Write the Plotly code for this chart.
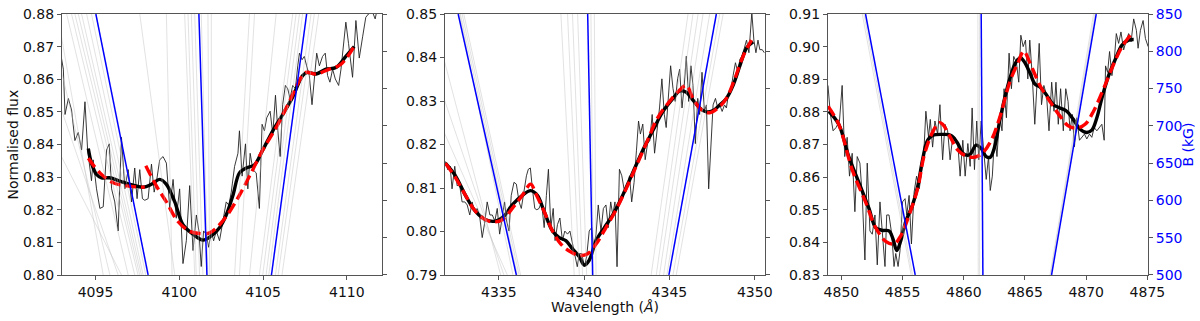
import plotly.graph_objects as go

# ---- panel 1 : H-delta ----
P1_SPEC_WL = [4092.95, 4093.08, 4093.18, 4093.38, 4093.57, 4093.77, 4093.97, 4094.17, 4094.37, 4094.53,
              4094.76, 4094.86, 4095.06, 4095.26, 4095.46, 4095.66, 4095.82, 4095.96, 4096.15, 4096.35,
              4096.55, 4096.75, 4096.95, 4097.15, 4097.34, 4097.48, 4097.64, 4097.80, 4097.94, 4098.14,
              4098.34, 4098.50, 4098.65, 4098.83, 4099.03, 4099.23, 4099.43, 4099.63, 4099.82, 4100.02,
              4100.22, 4100.42, 4100.62, 4100.82, 4101.02, 4101.17, 4101.31, 4101.45, 4101.61, 4101.75,
              4101.91, 4102.05, 4102.21, 4102.40, 4102.60, 4102.80, 4102.96, 4103.10, 4103.30, 4103.50,
              4103.59, 4103.75, 4103.95, 4104.09, 4104.23, 4104.39, 4104.59, 4104.78, 4104.94, 4105.08,
              4105.22, 4105.42, 4105.58, 4105.74, 4105.88, 4106.02, 4106.17, 4106.33, 4106.47, 4106.61,
              4106.77, 4106.93, 4107.07, 4107.17, 4107.33, 4107.46, 4107.60, 4107.76, 4107.92, 4108.06,
              4108.20, 4108.36, 4108.55, 4108.71, 4108.85, 4108.99, 4109.15, 4109.31, 4109.51, 4109.65,
              4109.78, 4109.94, 4110.10, 4110.34, 4110.54, 4110.74, 4110.94, 4111.13, 4111.29, 4111.50,
              4111.69, 4111.83, 4112.00, 4112.15]
P1_SPEC_FLUX = [0.8670, 0.8631, 0.8492, 0.8541, 0.8506, 0.8412, 0.8437, 0.8383, 0.8531, 0.8383,
                0.8289, 0.8353, 0.8264, 0.8204, 0.8209, 0.8383, 0.8402, 0.8264, 0.8224, 0.8135,
                0.8422, 0.8264, 0.8323, 0.8224, 0.8328, 0.8234, 0.8323, 0.8234, 0.8229, 0.8234,
                0.8340, 0.8254, 0.8290, 0.8353, 0.8363, 0.8343, 0.8204, 0.8293, 0.8174, 0.8264,
                0.8035, 0.8105, 0.8274, 0.8075, 0.8184, 0.8135, 0.8026, 0.8135, 0.8125, 0.8085,
                0.8135, 0.8105, 0.8135, 0.8105, 0.8164, 0.8224, 0.8214, 0.8254, 0.8333, 0.8373,
                0.8442, 0.8303, 0.8402, 0.8264, 0.8373, 0.8323, 0.8313, 0.8204, 0.8462, 0.8442,
                0.8482, 0.8502, 0.8432, 0.8551, 0.8442, 0.8363, 0.8522, 0.8581, 0.8571, 0.8541,
                0.8581, 0.8571, 0.8641, 0.8680, 0.8660, 0.8670, 0.8641, 0.8611, 0.8522, 0.8591,
                0.8680, 0.8641, 0.8670, 0.8680, 0.8611, 0.8591, 0.8631, 0.8601, 0.8581, 0.8631,
                0.8700, 0.8775, 0.8710, 0.8606, 0.8780, 0.8665, 0.8730, 0.8790, 0.8800, 0.8810,
                0.8785, 0.8820, 0.8800, 0.8810]

P1_SMOOTH_WL = [4094.57, 4094.76, 4095.06, 4095.36, 4095.86, 4096.45, 4097.05, 4097.84, 4098.34, 4098.83,
                4099.23, 4099.73, 4100.22, 4100.82, 4101.41, 4101.91, 4102.40, 4102.80, 4103.20, 4103.59,
                4103.99, 4104.49, 4104.98, 4105.58, 4106.17, 4106.77, 4107.36, 4107.66, 4108.16, 4108.75,
                4109.35, 4109.94, 4110.44]
P1_SMOOTH_FLUX = [0.8388, 0.8343, 0.8308, 0.8298, 0.8298, 0.8288, 0.8278, 0.8269, 0.8278, 0.8293,
                  0.8278, 0.8224, 0.8154, 0.8125, 0.8107, 0.8120, 0.8145, 0.8184, 0.8244, 0.8313,
                  0.8328, 0.8338, 0.8383, 0.8442, 0.8492, 0.8546, 0.8611, 0.8621, 0.8616, 0.8631,
                  0.8636, 0.8670, 0.8700]

P1_MODEL_WL = [4094.57, 4095.26, 4096.05, 4096.85, 4097.94, None,
               4098.00, 4098.63, 4099.23, 4099.92, 4100.62, 4101.21, 4101.81, 4102.40, 4103.00, 4103.69,
               4104.29, 4104.98, 4105.78, 4106.57, 4107.17, 4107.56, 4108.16, 4108.95, 4109.65, 4110.54]
P1_MODEL_FLUX = [0.8358, 0.8313, 0.8283, 0.8273, 0.8269, None,
                 0.8335, 0.8273, 0.8224, 0.8164, 0.8134, 0.8127, 0.8129, 0.8154, 0.8194, 0.8254,
                 0.8313, 0.8383, 0.8452, 0.8531, 0.8596, 0.8621, 0.8616, 0.8631, 0.8646, 0.8710]

# wavelength of each B(lambda) curve at B = 850 kG (top) and B = 500 kG (bottom)
P1_BLUE_TOP = [4095.02, 4101.17, 4107.60]
P1_BLUE_BOT = [4098.14, 4101.65, 4105.50]
P1_GREY_TOP = [4092.73, 4092.15, 4091.01, 4088.65, 4093.28, 4093.57, 4093.77, 4093.97, 4094.17, 4094.47,
               4094.76, 4097.64, 4099.23, 4100.32, 4100.52, 4100.72, 4100.92, 4101.31, 4101.71, 4101.91,
               4104.19, 4104.49, 4105.78, 4106.77, 4106.97, 4107.17, 4107.36, 4107.86, 4108.06, 4108.32]
P1_GREY_BOT = [4095.46, 4095.86, 4096.35, 4096.55, 4096.95, 4097.34, 4097.54, 4097.64, 4097.74, 4097.84,
               4098.00, 4099.73, 4099.57, 4100.92, 4101.01, 4101.21, 4101.41, 4101.71, 4101.81, 4101.91,
               4103.30, 4103.59, 4104.19, 4104.78, 4104.98, 4105.18, 4105.34, 4105.74, 4105.90, 4106.13]

# ---- panel 2 : H-gamma ----
P2_SPEC_WL = [4331.87, 4332.01, 4332.15, 4332.26, 4332.42, 4332.56, 4332.70, 4332.85, 4333.01, 4333.15,
              4333.30, 4333.44, 4333.58, 4333.73, 4333.87, 4334.03, 4334.19, 4334.32, 4334.48, 4334.62,
              4334.77, 4334.91, 4335.05, 4335.21, 4335.34, 4335.46, 4335.60, 4335.73, 4335.89, 4336.03,
              4336.19, 4336.32, 4336.48, 4336.62, 4336.73, 4336.85, 4336.97, 4337.11, 4337.23, 4337.36,
              4337.50, 4337.66, 4337.79, 4337.91, 4338.05, 4338.19, 4338.30, 4338.44, 4338.58, 4338.73,
              4338.87, 4339.03, 4339.17, 4339.32, 4339.46, 4339.60, 4339.72, 4339.87, 4340.01, 4340.15,
              4340.30, 4340.44, 4340.56, 4340.70, 4340.83, 4340.99, 4341.13, 4341.28, 4341.42, 4341.56,
              4341.68, 4341.81, 4341.93, 4342.07, 4342.21, 4342.34, 4342.50, 4342.66, 4342.79, 4342.93,
              4343.07, 4343.19, 4343.30, 4343.44, 4343.58, 4343.72, 4343.85, 4343.99, 4344.13, 4344.26,
              4344.42, 4344.56, 4344.70, 4344.81, 4344.95, 4345.07, 4345.21, 4345.34, 4345.48, 4345.60,
              4345.74, 4345.87, 4345.99, 4346.13, 4346.26, 4346.38, 4346.52, 4346.66, 4346.77, 4346.91,
              4347.05, 4347.17, 4347.30, 4347.42, 4347.56, 4347.70, 4347.83, 4347.95, 4348.09, 4348.23,
              4348.34, 4348.48, 4348.62, 4348.73, 4348.87, 4349.01, 4349.13, 4349.26, 4349.40, 4349.52,
              4349.66, 4349.76, 4349.83, 4349.95, 4350.07, 4350.19, 4350.30, 4350.44, 4350.56]
P2_SPEC_FLUX = [0.8161, 0.8142, 0.8150, 0.8098, 0.8150, 0.8105, 0.8109, 0.8068, 0.8068, 0.8061,
                0.8038, 0.8068, 0.8046, 0.8053, 0.8038, 0.7986, 0.8024, 0.8068, 0.8038, 0.8038,
                0.8024, 0.8053, 0.7994, 0.8038, 0.8068, 0.8024, 0.8001, 0.8083, 0.8113, 0.8109,
                0.8068, 0.8053, 0.8098, 0.8128, 0.8143, 0.8146, 0.8098, 0.8053, 0.8050, 0.8053,
                0.8068, 0.8009, 0.8083, 0.8143, 0.8009, 0.8053, 0.7979, 0.8016, 0.8031, 0.7979,
                0.8001, 0.7994, 0.8001, 0.7971, 0.7949, 0.7919, 0.7949, 0.7949, 0.7919, 0.7942,
                0.8001, 0.8009, 0.7964, 0.7994, 0.8061, 0.8001, 0.8053, 0.8061, 0.8009, 0.8068,
                0.8038, 0.8068, 0.7919, 0.8143, 0.8128, 0.8098, 0.8098, 0.8128, 0.8068, 0.8113,
                0.8187, 0.8254, 0.8224, 0.8247, 0.8165, 0.8202, 0.8209, 0.8269, 0.8180, 0.8224,
                0.8284, 0.8351, 0.8269, 0.8239, 0.8306, 0.8381, 0.8329, 0.8299, 0.8351, 0.8373,
                0.8284, 0.8336, 0.8403, 0.8299, 0.8381, 0.8336, 0.8202, 0.8306, 0.8269, 0.8366,
                0.8276, 0.8291, 0.8098, 0.8202, 0.8291, 0.8306, 0.8284, 0.8291, 0.8276, 0.8291,
                0.8284, 0.8321, 0.8329, 0.8358, 0.8388, 0.8366, 0.8396, 0.8403, 0.8426, 0.8440,
                0.8411, 0.8470, 0.8503, 0.8440, 0.8411, 0.8440, 0.8418, 0.8418, 0.8411]

P2_SMOOTH_WL = [4331.87, 4332.46, 4333.05, 4333.64, 4334.23, 4334.81, 4335.30, 4335.79, 4336.38, 4336.87,
                4337.26, 4337.66, 4338.15, 4338.54, 4338.93, 4339.32, 4339.72, 4340.01, 4340.30, 4340.70,
                4341.19, 4341.68, 4342.26, 4342.85, 4343.44, 4344.03, 4344.62, 4345.21, 4345.60, 4345.99,
                4346.38, 4346.78, 4347.17, 4347.56, 4347.95, 4348.34, 4348.73, 4349.13, 4349.52, 4349.91]
P2_SMOOTH_FLUX = [0.8157, 0.8128, 0.8083, 0.8046, 0.8027, 0.8024, 0.8035, 0.8061, 0.8083, 0.8094,
                  0.8083, 0.8046, 0.8001, 0.7986, 0.7979, 0.7960, 0.7942, 0.7923, 0.7934, 0.7979,
                  0.8009, 0.8038, 0.8083, 0.8135, 0.8187, 0.8232, 0.8276, 0.8306, 0.8323, 0.8320,
                  0.8302, 0.8284, 0.8275, 0.8278, 0.8291, 0.8306, 0.8336, 0.8381, 0.8422, 0.8436]

P2_MODEL_WL = [4331.87, 4332.46, 4333.05, 4333.64, 4334.23, 4334.72, 4335.21, 4335.79, 4336.38, 4336.87,
               4337.17, 4337.66, 4338.15, 4338.64, 4339.13, 4339.72, 4340.21, 4340.70, 4341.28, 4341.87,
               4342.46, 4343.05, 4343.64, 4344.32, 4345.01, 4345.60, 4345.99, 4346.38, 4346.87, 4347.36,
               4347.85, 4348.34, 4348.83, 4349.32, 4349.81]
P2_MODEL_FLUX = [0.8157, 0.8124, 0.8083, 0.8046, 0.8027, 0.8022, 0.8027, 0.8053, 0.8083, 0.8109,
                 0.8087, 0.8046, 0.8001, 0.7971, 0.7955, 0.7945, 0.7949, 0.7971, 0.8009, 0.8050,
                 0.8098, 0.8150, 0.8202, 0.8262, 0.8299, 0.8325, 0.8336, 0.8306, 0.8280, 0.8273,
                 0.8284, 0.8306, 0.8351, 0.8403, 0.8440]

P2_BLUE_TOP = [4332.62, 4340.21, 4347.75]
P2_BLUE_BOT = [4336.03, 4340.50, 4344.97]
P2_GREY_TOP = [4332.70, 4332.75, 4332.85, 4332.95, 4331.09, 4330.11, 4328.73,
               4338.64, 4339.03, 4339.32, 4339.62, 4340.40, 4340.60,
               4346.09, 4346.38, 4346.68, 4346.97, 4347.36, 4347.95, 4348.15]
P2_GREY_BOT = [4335.83, 4336.09, 4336.19, 4336.28, 4335.11, 4335.30, 4335.50,
               4339.42, 4339.72, 4339.91, 4340.15, 4340.54, 4340.70,
               4343.93, 4344.23, 4344.42, 4344.66, 4344.85, 4345.21, 4345.40]

# ---- panel 3 : H-beta ----
P3_SPEC_WL = [4848.90, 4849.10, 4849.32, 4849.56, 4849.84, 4850.06, 4850.27, 4850.47, 4850.66, 4850.88,
              4851.10, 4851.29, 4851.51, 4851.70, 4851.92, 4852.11, 4852.33, 4852.52, 4852.74, 4852.93,
              4853.15, 4853.34, 4853.56, 4853.70, 4853.89, 4854.11, 4854.30, 4854.44, 4854.63, 4854.79,
              4854.99, 4855.20, 4855.34, 4855.53, 4855.72, 4855.94, 4856.14, 4856.36, 4856.57, 4856.77,
              4856.90, 4857.12, 4857.26, 4857.45, 4857.64, 4857.86, 4858.05, 4858.27, 4858.46, 4858.68,
              4858.88, 4859.09, 4859.29, 4859.51, 4859.70, 4859.92, 4860.11, 4860.33, 4860.52, 4860.68,
              4860.87, 4861.06, 4861.23, 4861.42, 4861.61, 4861.83, 4862.02, 4862.16, 4862.33, 4862.52,
              4862.71, 4862.93, 4863.12, 4863.29, 4863.48, 4863.70, 4863.89, 4864.08, 4864.30, 4864.49,
              4864.66, 4864.85, 4865.04, 4865.23, 4865.39, 4865.59, 4865.80, 4866.00, 4866.16, 4866.35,
              4866.54, 4866.76, 4866.96, 4867.18, 4867.37, 4867.53, 4867.72, 4867.91, 4868.13, 4868.33,
              4868.52, 4868.68, 4868.87, 4869.04, 4869.23, 4869.45, 4869.64, 4869.86, 4870.05, 4870.27,
              4870.46, 4870.65, 4870.87, 4871.09, 4871.28, 4871.47, 4871.58, 4871.75, 4871.91, 4872.10,
              4872.30, 4872.46, 4872.65, 4872.84, 4873.06, 4873.28, 4873.47, 4873.67, 4873.88, 4874.10,
              4874.24, 4874.43, 4874.65, 4874.84, 4875.06]
P3_SPEC_FLUX = [0.8881, 0.8792, 0.8742, 0.8752, 0.8772, 0.8881, 0.8663, 0.8722, 0.8603, 0.8673,
                0.8494, 0.8663, 0.8643, 0.8544, 0.8346, 0.8643, 0.8435, 0.8425, 0.8484, 0.8331,
                0.8524, 0.8435, 0.8326, 0.8484, 0.8484, 0.8425, 0.8326, 0.8366, 0.8326, 0.8375,
                0.8524, 0.8534, 0.8484, 0.8544, 0.8395, 0.8554, 0.8603, 0.8564, 0.8623, 0.8703,
                0.8802, 0.8722, 0.8777, 0.8692, 0.8772, 0.8732, 0.8822, 0.8653, 0.8762, 0.8742,
                0.8653, 0.8722, 0.8722, 0.8703, 0.8603, 0.8713, 0.8603, 0.8703, 0.8633, 0.8812,
                0.8623, 0.8772, 0.8653, 0.8772, 0.8683, 0.8593, 0.8663, 0.8559, 0.8603, 0.8732,
                0.8663, 0.8792, 0.8742, 0.8871, 0.8782, 0.8980, 0.8871, 0.8970, 0.8951, 0.8891,
                0.9035, 0.9000, 0.9020, 0.8901, 0.9020, 0.8911, 0.8762, 0.8891, 0.9010, 0.8822,
                0.8881, 0.8851, 0.8742, 0.8891, 0.8802, 0.8891, 0.8762, 0.8871, 0.8742, 0.8871,
                0.8832, 0.8742, 0.8792, 0.8693, 0.8782, 0.8713, 0.8722, 0.8732, 0.8717, 0.8732,
                0.8722, 0.8752, 0.8742, 0.8752, 0.8762, 0.8713, 0.8941, 0.8921, 0.8985, 0.8911,
                0.8961, 0.9040, 0.9010, 0.9045, 0.8990, 0.9020, 0.9040, 0.9015, 0.9085, 0.9050,
                0.8995, 0.9050, 0.9080, 0.9025, 0.9000]

P3_SMOOTH_WL = [4848.96, 4849.78, 4850.60, 4851.42, 4852.25, 4852.80, 4853.34, 4853.89, 4854.22, 4854.52,
                4854.85, 4855.26, 4855.81, 4856.22, 4856.63, 4857.04, 4857.45, 4858.27, 4858.96, 4859.51,
                4859.92, 4860.46, 4861.01, 4861.42, 4861.83, 4862.16, 4862.52, 4862.93, 4863.34, 4863.75,
                4864.24, 4864.63, 4864.90, 4865.39, 4865.80, 4866.22, 4866.76, 4867.31, 4867.86, 4868.41,
                4868.95, 4869.50, 4870.05, 4870.46, 4870.87, 4871.28, 4871.83, 4872.38, 4872.93, 4873.47,
                4873.88]
P3_SMOOTH_FLUX = [0.8802, 0.8762, 0.8663, 0.8584, 0.8504, 0.8445, 0.8437, 0.8435, 0.8410, 0.8375,
                  0.8405, 0.8465, 0.8514, 0.8569, 0.8653, 0.8713, 0.8728, 0.8731, 0.8728, 0.8703,
                  0.8673, 0.8668, 0.8698, 0.8688, 0.8663, 0.8661, 0.8693, 0.8772, 0.8842, 0.8901,
                  0.8951, 0.8966, 0.8956, 0.8921, 0.8886, 0.8876, 0.8852, 0.8822, 0.8812, 0.8802,
                  0.8777, 0.8747, 0.8737, 0.8744, 0.8782, 0.8842, 0.8911, 0.8961, 0.9005, 0.9020,
                  0.9022]

P3_MODEL_WL = [4848.90, 4849.78, 4850.88, 4851.97, 4852.80, 4853.62, 4854.30, 4854.85, 4855.53, 4856.22,
               4856.77, 4857.45, 4858.00, 4858.27, 4858.82, 4859.51, 4860.19, 4860.87, 4861.51, 4862.24,
               4862.93, 4863.75, 4864.43, 4864.90, 4865.39, 4866.22, 4867.04, 4867.86, 4868.54, 4869.23,
               4869.91, 4870.60, 4871.42, 4872.24, 4872.93, 4873.61]
P3_MODEL_FLUX = [0.8817, 0.8762, 0.8623, 0.8524, 0.8445, 0.8403, 0.8395, 0.8420, 0.8484, 0.8564,
                 0.8668, 0.8738, 0.8767, 0.8762, 0.8728, 0.8683, 0.8665, 0.8661, 0.8673, 0.8713,
                 0.8782, 0.8891, 0.8951, 0.8986, 0.8951, 0.8881, 0.8832, 0.8787, 0.8757, 0.8750,
                 0.8762, 0.8802, 0.8871, 0.8946, 0.9000, 0.9035]

P3_BLUE_TOP = [4851.97, 4861.42, 4870.82]
P3_BLUE_BOT = [4856.03, 4861.56, 4867.17]
P3_GREY_TOP = [4851.84, 4851.70, 4861.29, 4861.15, 4870.60, 4870.71]
P3_GREY_BOT = [4855.81, 4855.70, 4861.29, 4861.18, 4867.04, 4867.09]

B_TOP, B_BOT = 850, 500
B_TICKS = [500, 550, 600, 650, 700, 750, 800, 850]

PANELS = [
    dict(spec=(P1_SPEC_WL, P1_SPEC_FLUX), smooth=(P1_SMOOTH_WL, P1_SMOOTH_FLUX),
         model=(P1_MODEL_WL, P1_MODEL_FLUX), blue=(P1_BLUE_TOP, P1_BLUE_BOT),
         grey=(P1_GREY_TOP, P1_GREY_BOT), xrange=[4093.0, 4112.1], yrange=[0.80, 0.88],
         xticks=[4095, 4100, 4105, 4110], dom=[0.0, 0.2947]),
    dict(spec=(P2_SPEC_WL, P2_SPEC_FLUX), smooth=(P2_SMOOTH_WL, P2_SMOOTH_FLUX),
         model=(P2_MODEL_WL, P2_MODEL_FLUX), blue=(P2_BLUE_TOP, P2_BLUE_BOT),
         grey=(P2_GREY_TOP, P2_GREY_BOT), xrange=[4331.85, 4350.6], yrange=[0.79, 0.85],
         xticks=[4335, 4340, 4345, 4350], dom=[0.3527, 0.6473]),
    dict(spec=(P3_SPEC_WL, P3_SPEC_FLUX), smooth=(P3_SMOOTH_WL, P3_SMOOTH_FLUX),
         model=(P3_MODEL_WL, P3_MODEL_FLUX), blue=(P3_BLUE_TOP, P3_BLUE_BOT),
         grey=(P3_GREY_TOP, P3_GREY_BOT), xrange=[4848.9, 4875.05], yrange=[0.83, 0.91],
         xticks=[4850, 4855, 4860, 4865, 4870, 4875], dom=[0.7053, 1.0]),
]

FONT = "DejaVu Sans, sans-serif"
FSIZE = 14
SPINE = "#555555"
TXT = "#111111"
BLUE = "#0000ff"


def segments(tops, bots):
    xs, ys = [], []
    for t, b in zip(tops, bots):
        xs += [t, b, None]
        ys += [B_TOP, B_BOT, None]
    return xs, ys


def flux_ticks(lo, hi):
    n = int(round((hi - lo) / 0.01))
    return [round(lo + k * 0.01, 2) for k in range(n + 1)]


fig = go.Figure()
layout = {}
for i, p in enumerate(PANELS, start=1):
    xa = "x" if i == 1 else f"x{i}"
    ya = "y" if i == 1 else f"y{i}"
    yb = f"y{i + 3}"
    lo, hi = p["yrange"]

    gx, gy = segments(*p["grey"])
    fig.add_trace(go.Scatter(x=gx, y=gy, mode="lines", xaxis=xa, yaxis=yb,
                             line=dict(color="rgba(190,190,190,0.45)", width=1),
                             showlegend=False, hoverinfo="skip"))
    bx, by = segments(*p["blue"])
    fig.add_trace(go.Scatter(x=bx, y=by, mode="lines", xaxis=xa, yaxis=yb,
                             line=dict(color=BLUE, width=1.5), showlegend=False))
    fig.add_trace(go.Scatter(x=p["spec"][0], y=p["spec"][1], mode="lines", xaxis=xa, yaxis=ya,
                             line=dict(color="#222222", width=0.9), showlegend=False))
    fig.add_trace(go.Scatter(x=p["smooth"][0], y=p["smooth"][1], mode="lines", xaxis=xa, yaxis=ya,
                             line=dict(color="black", width=3.4, shape="spline"), showlegend=False))
    fig.add_trace(go.Scatter(x=p["model"][0], y=p["model"][1], mode="lines", xaxis=xa, yaxis=ya,
                             line=dict(color="red", width=3.4, dash="11px,5px", shape="spline"),
                             showlegend=False))

    layout[f"xaxis{i if i > 1 else ''}"] = dict(
        domain=p["dom"], anchor=ya, range=p["xrange"], tickvals=p["xticks"],
        ticks="outside", ticklen=4, tickcolor=SPINE, showline=True, linecolor=SPINE,
        linewidth=1.2, mirror=True, showgrid=False, zeroline=False,
        ticklabeloverflow="allow",
        tickfont=dict(family=FONT, size=FSIZE, color=TXT))
    layout[f"yaxis{i if i > 1 else ''}"] = dict(
        domain=[0, 1], anchor=xa, range=[lo - 1e-6, hi + 1e-6],
        tickvals=flux_ticks(lo, hi), tickformat=".2f",
        ticks="outside", ticklen=4, tickcolor=SPINE, showline=True, linecolor=SPINE,
        linewidth=1.2, mirror=True, showgrid=False, zeroline=False,
        ticklabeloverflow="allow",
        tickfont=dict(family=FONT, size=FSIZE, color=TXT))
    layout[f"yaxis{i + 3}"] = dict(
        overlaying=ya, anchor=xa, side="right", range=[B_BOT - 0.01, B_TOP + 0.01],
        tickvals=B_TICKS, ticks="outside", ticklen=4, tickcolor=SPINE,
        showticklabels=(i == 3), showgrid=False, zeroline=False, showline=False,
        ticklabeloverflow="allow",
        tickfont=dict(family=FONT, size=FSIZE, color=BLUE))

fig.update_layout(
    width=1200, height=321,
    margin=dict(l=62, r=52, t=6, b=46),
    plot_bgcolor="white", paper_bgcolor="white",
    font=dict(family=FONT, color=TXT),
    **layout,
)

fig.add_annotation(text="Normalised flux", xref="paper", yref="paper", x=-0.046, y=0.5,
                   xanchor="center", yanchor="middle", textangle=-90, showarrow=False,
                   font=dict(family=FONT, size=FSIZE, color=TXT))
fig.add_annotation(text="Wavelength (<i>Å</i>)", xref="paper", yref="paper", x=0.5, y=-0.123,
                   xanchor="center", yanchor="middle", showarrow=False,
                   font=dict(family=FONT, size=FSIZE, color=TXT))
fig.add_annotation(text="B (kG)", xref="paper", yref="paper", x=1.036, y=0.5,
                   xanchor="center", yanchor="middle", textangle=-90, showarrow=False,
                   font=dict(family=FONT, size=FSIZE, color=BLUE))

# drop the browser's default page margin so the figure sits at (0, 0)
fig.write_html("out.html", config={"displayModeBar": False},
               post_script="document.body.style.margin='0';")
